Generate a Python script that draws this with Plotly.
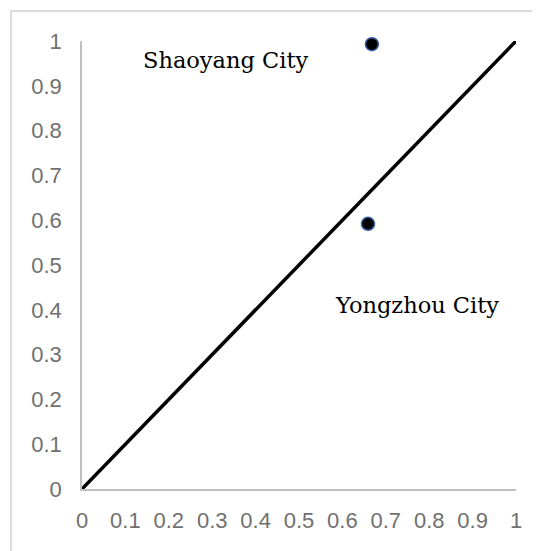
import plotly.graph_objects as go

line_x = [0, 1]
line_y = [0, 1]
city_names = ["Shaoyang City", "Yongzhou City"]
city_x = [0.668, 0.659]
city_y = [0.993, 0.592]
label_x = [0.33, 0.772]
label_y = [0.958, 0.41]
tick_vals = [0, 0.1, 0.2, 0.3, 0.4, 0.5, 0.6, 0.7, 0.8, 0.9, 1]
tick_text = ["0", "0.1", "0.2", "0.3", "0.4", "0.5", "0.6", "0.7", "0.8", "0.9", "1"]

fig = go.Figure()
fig.add_trace(go.Scatter(x=line_x, y=line_y, mode="lines",
                         line=dict(color="black", width=3.5), showlegend=False,
                         cliponaxis=False))
fig.add_trace(go.Scatter(x=city_x, y=city_y, mode="markers",
                         marker=dict(color="black", size=13,
                                     line=dict(color="#3a5fa8", width=1.5)),
                         showlegend=False, cliponaxis=False))
for name, x, y in zip(city_names, label_x, label_y):
    fig.add_annotation(x=x, y=y, text=name, showarrow=False,
                       font=dict(family="DejaVu Serif", size=22.5, color="black"))

fig.add_shape(type="rect", xref="paper", yref="paper",
              x0=-0.1636, x1=1.2, y0=-0.3, y1=1.067,
              line=dict(color="#d0d0d0", width=1.5), layer="below")

axis_font = dict(family="Liberation Sans", size=22, color="#707070")
fig.update_xaxes(range=[0, 1], tickvals=tick_vals, ticktext=tick_text,
                 showgrid=False, zeroline=False, showline=True,
                 linecolor="#c0c0c0", linewidth=1.5, ticks="",
                 tickfont=axis_font, ticklabelstandoff=11, automargin=False)
fig.update_yaxes(range=[0, 1], tickvals=tick_vals, ticktext=tick_text,
                 showgrid=False, zeroline=False, showline=True,
                 linecolor="#c0c0c0", linewidth=1.5, ticks="",
                 tickfont=axis_font, ticklabelstandoff=14, automargin=False)
fig.update_layout(width=540, height=551,
                  margin=dict(l=74, r=32, t=33, b=70),
                  plot_bgcolor="white", paper_bgcolor="white")
fig.write_html("out.html")
